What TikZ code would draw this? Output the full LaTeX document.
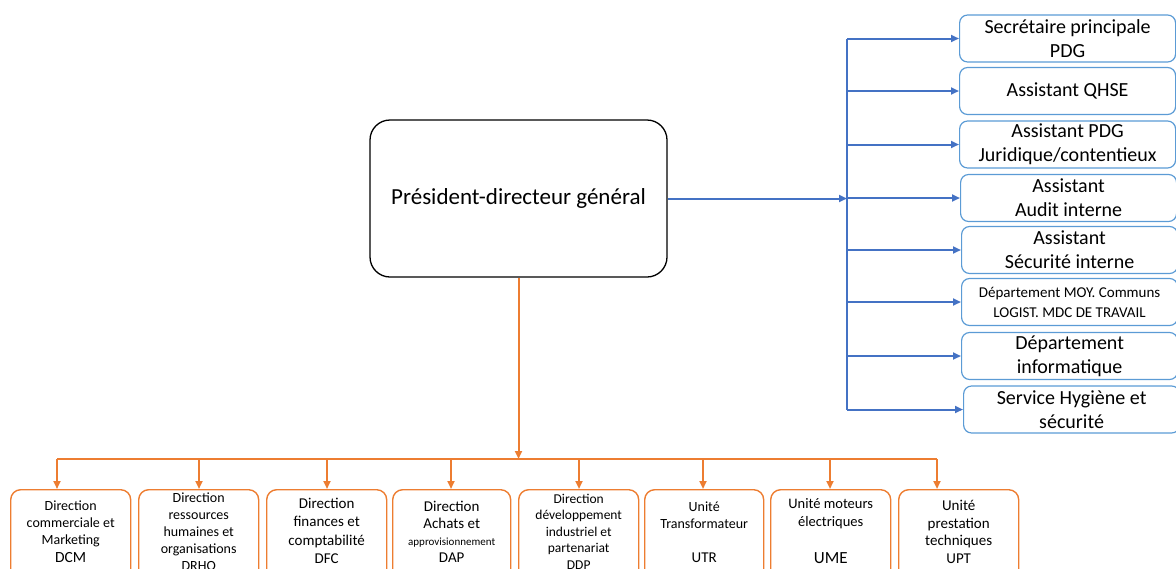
\documentclass[tikz,border=0pt]{standalone}
\usepackage{fontspec}
\setmainfont{Carlito}
\usetikzlibrary{arrows.meta}

\definecolor{lineblue}{HTML}{4472C4}
\definecolor{boxblue}{HTML}{5B9BD5}
\definecolor{orangeline}{HTML}{ED7D31}

% fixed-height, top-aligned text block for the unit boxes:
% #1 width, #2 distance from the box top to the first baseline, #3 lines
\newcommand\unittext[3]{\parbox[t][100pt][t]{#1}{\centering\rule{0pt}{#2}#3}}

\tikzset{
  pdgbox/.style={draw=black, line width=1.3pt, rounded corners=20pt,
    minimum width=297pt, minimum height=157pt, inner sep=0pt,
    font=\fontsize{23}{28}\selectfont},
  staffbox/.style={draw=boxblue, line width=1.2pt, rounded corners=8pt,
    minimum width=216pt, minimum height=47pt, anchor=west, align=center,
    inner sep=0pt, font=\fontsize{20}{24}\selectfont},
  unitbox/.style={draw=orangeline, line width=1.4pt, rounded corners=10pt,
    anchor=north west, inner sep=0pt},
  blueline/.style={draw=lineblue, line width=2pt},
  bluearrow/.style={blueline, -{Triangle[length=8pt,width=7pt]}},
  orangewire/.style={draw=orangeline, line width=2pt},
  orangearrow/.style={orangewire, -{Triangle[length=8pt,width=7pt]}},
}

\begin{document}
\begin{tikzpicture}[x=1pt, y=-1pt]
\useasboundingbox (0,0) rectangle (1176,568);

% head of the organisation
\node[pdgbox] (pdg) at (518.5,198.5) {Président-directeur général};

% staff attached to the PDG
\node[staffbox] (r1) at (959,38.5)  {Secrétaire principale\\PDG};
\node[staffbox] (r2) at (959,91)    {Assistant QHSE};
\node[staffbox] (r3) at (959,144.5) {Assistant PDG\\Juridique/contentieux};
\node[staffbox] (r4) at (960,198)   {Assistant\\Audit interne};
\node[staffbox] (r5) at (961,250)   {Assistant\\Sécurité interne};
\node[staffbox, font=\fontsize{15}{20}\selectfont] (r6) at (961,302)
  {Département MOY. Communs\\LOGIST. MDC DE TRAVAIL};
\node[staffbox] (r7) at (961,356)   {Département\\informatique};
\node[staffbox] (r8) at (963,409.5) {Service Hygiène et\\sécurité};

% staff bus
\coordinate (bus) at (847,0);
\draw[blueline] (r1.west -| bus) -- (r8.west -| bus);
\draw[bluearrow] (pdg.east) -- (pdg.east -| bus);
\foreach \r in {r1,r2,r3,r4,r5,r6,r7,r8}
  \draw[bluearrow] (\r.west -| bus) -- (\r.west);

% directions and units
\node[unitbox, font=\fontsize{14}{17.3}\selectfont] (u1) at (10,489)
  {\unittext{120pt}{20.5pt}{Direction\\commerciale et\\Marketing\\{\fontsize{15.5}{17.3}\selectfont DCM}}};
\node[unitbox, font=\fontsize{14}{17}\selectfont] (u2) at (138,489)
  {\unittext{120pt}{12.5pt}{Direction\\ressources\\humaines et\\organisations\\DRHO}};
\node[unitbox, font=\fontsize{15}{18.3}\selectfont] (u3) at (266,489)
  {\unittext{120pt}{18.8pt}{Direction\\finances et\\comptabilité\\DFC}};
\node[unitbox, font=\fontsize{15}{17}\selectfont] (u4) at (392,489)
  {\unittext{118pt}{21.8pt}{Direction\\Achats et\\{\fontsize{11}{13}\selectfont approvisionnement}\\DAP}};
\node[unitbox, font=\fontsize{13.5}{16.5}\selectfont] (u5) at (518,489)
  {\unittext{120pt}{13.3pt}{Direction\\développement\\industriel et\\partenariat\\DDP}};
\node[unitbox, font=\fontsize{14}{17}\selectfont] (u6) at (644,489)
  {\unittext{119pt}{21.5pt}{Unité\\Transformateur\\[17pt]{\fontsize{15}{17}\selectfont UTR}}};
\node[unitbox, font=\fontsize{14.5}{18.5}\selectfont] (u7) at (770,489)
  {\unittext{120pt}{18.6pt}{Unité moteurs\\électriques\\[18.5pt]{\fontsize{17}{18.5}\selectfont UME}}};
\node[unitbox, font=\fontsize{15}{17.5}\selectfont] (u8) at (898,489)
  {\unittext{120pt}{20.8pt}{Unité\\prestation\\techniques\\UPT}};

% direction bus
\coordinate (obus) at (0,459);
\coordinate (d1) at (57,459);
\coordinate (d2) at (199,459);
\coordinate (d3) at (327,459);
\coordinate (d4) at (451,459);
\coordinate (d5) at (579,459);
\coordinate (d6) at (703,459);
\coordinate (d7) at (830,459);
\coordinate (d8) at (937,459);
\draw[orangearrow] (pdg.south) -- (pdg.south |- obus);
\draw[orangewire] (d1) -- (d8);
\foreach \i in {1,...,8}
  \draw[orangearrow] (d\i) -- (d\i |- u\i.north);
\end{tikzpicture}
\end{document}
